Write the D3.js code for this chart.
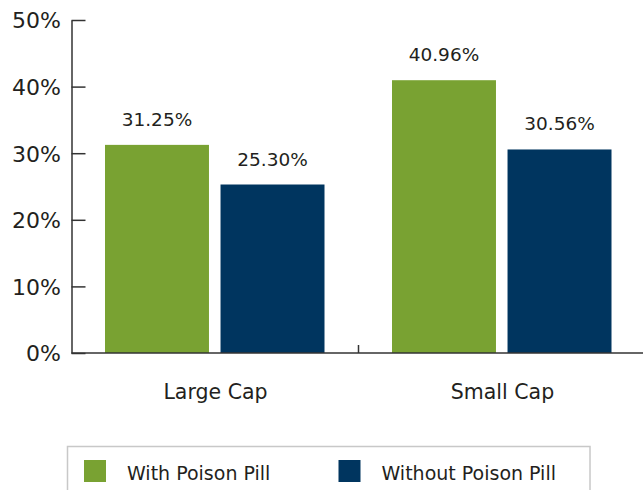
<!DOCTYPE html>
<html>
<head>
<meta charset="utf-8">
<script src="https://cdn.jsdelivr.net/npm/d3@7"></script>
<style>
  html, body { margin: 0; padding: 0; background: #ffffff; }
  svg { display: block; }
  text { font-family: "DejaVu Sans", sans-serif; fill: #231f20; }
</style>
</head>
<body>
<svg id="chart" width="643" height="490"></svg>
<script>
const categories = ["Large Cap", "Small Cap"];
const seriesNames = ["With Poison Pill", "Without Poison Pill"];
const withPill = [31.25, 40.96];
const withoutPill = [25.30, 30.56];
const yTicks = [0, 10, 20, 30, 40, 50];
const colors = ["#79a232", "#00355f"];

const seriesValues = [withPill, withoutPill];
const svg = d3.select("#chart");

const y = d3.scaleLinear().domain([0, 50]).range([353, 20]);
const x0 = d3.scaleBand().domain(categories).range([71.5, 645.5]).paddingInner(0).paddingOuter(0);
const x1 = d3.scaleBand().domain(seriesNames).range([33.5, 253]).paddingInner(0.1).paddingOuter(0);

const rows = categories.map((c, i) => ({
  cat: c,
  vals: seriesNames.map((s, j) => ({ s, j, v: seriesValues[j][i] }))
}));

const groups = svg.append("g").selectAll("g").data(rows).join("g")
  .attr("transform", d => `translate(${x0(d.cat)},0)`);

groups.selectAll("rect").data(d => d.vals).join("rect")
  .attr("x", d => x1(d.s))
  .attr("width", x1.bandwidth())
  .attr("y", d => y(d.v))
  .attr("height", d => y(0) - y(d.v))
  .attr("fill", d => colors[d.j]);

groups.selectAll("text.val").data(d => d.vals).join("text")
  .attr("class", "val")
  .attr("x", d => x1(d.s) + x1.bandwidth() / 2)
  .attr("y", d => y(d.v) - 19)
  .attr("text-anchor", "middle")
  .style("font-size", "18.5px")
  .text(d => d.v.toFixed(2) + "%");

// Y axis
const yAxis = d3.axisLeft(y).tickValues(yTicks).tickSizeInner(-14).tickSizeOuter(0).tickPadding(10.5)
  .tickFormat(d => d + "%");
const ya = svg.append("g").attr("transform", "translate(71.5,0)").call(yAxis);
ya.select(".domain").attr("stroke", "#333").attr("stroke-width", 1.5);
ya.selectAll(".tick line").attr("stroke", "#333").attr("stroke-width", 1.5);
ya.selectAll(".tick text").style("font-size", "22px").attr("font-family", null).attr("fill", "#231f20").attr("dy", "0.36em");

// X axis
const xa = svg.append("g");
xa.append("line").attr("x1", 71.5).attr("x2", 643).attr("y1", y(0)).attr("y2", y(0))
  .attr("stroke", "#333").attr("stroke-width", 1.5);
xa.selectAll("line.tk").data(categories.slice(1)).join("line").attr("class", "tk")
  .attr("x1", d => x0(d)).attr("x2", d => x0(d)).attr("y1", y(0)).attr("y2", y(0) - 8)
  .attr("stroke", "#333").attr("stroke-width", 1.5);
xa.selectAll("text").data(categories).join("text")
  .attr("x", d => x0(d) + x0.bandwidth() / 2 + 0.5)
  .attr("y", 399)
  .attr("text-anchor", "middle")
  .style("font-size", "20.5px")
  .text(d => d);

// Legend
const lg = svg.append("g");
lg.append("rect").attr("x", 67.5).attr("y", 446.5).attr("width", 522.5).attr("height", 60)
  .attr("fill", "none").attr("stroke", "#c8c8c8").attr("stroke-width", 1.5);
const legX = [84, 338.5];
const li = lg.selectAll("g.li").data(seriesNames).join("g").attr("class", "li")
  .attr("transform", (d, i) => `translate(${legX[i]},460)`);
li.append("rect").attr("width", 22).attr("height", 22).attr("fill", (d, i) => colors[i]);
li.append("text").attr("x", 43).attr("y", 20).style("font-size", "19px").text(d => d);
</script>
</body>
</html>
